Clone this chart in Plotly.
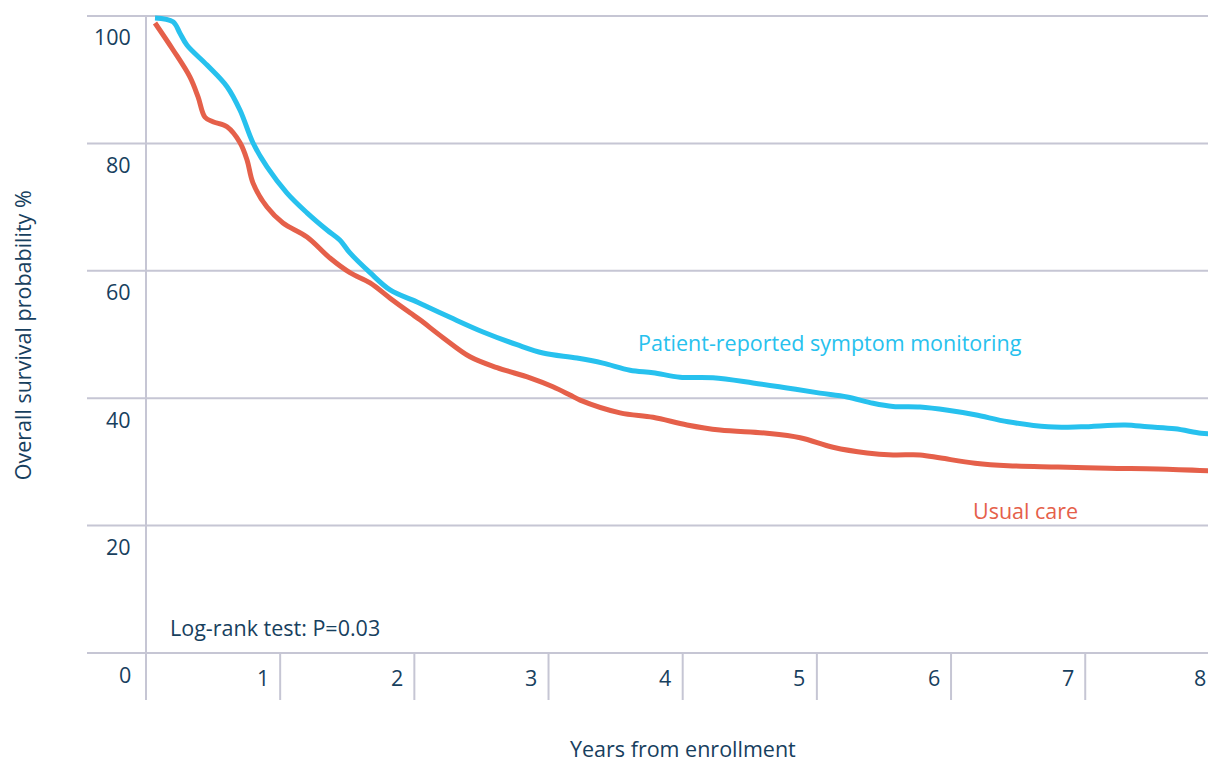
import plotly.graph_objects as go

# ---- data ----
prsm_years = [0.067, 0.201, 0.253, 0.306, 0.455, 0.604, 0.701, 0.797, 0.902, 1.051, 1.200, 1.349,
              1.446, 1.520, 1.670, 1.819, 2.020, 2.266, 2.512, 2.765, 2.959, 3.212, 3.406, 3.607,
              3.779, 3.980, 4.226, 4.524, 4.778, 5.023, 5.225, 5.419, 5.568, 5.769, 5.977, 6.179,
              6.425, 6.723, 6.969, 7.297, 7.468, 7.669, 7.863, 7.95]
prsm_surv = [99.7, 99.1, 97.3, 95.4, 92.3, 88.9, 85.2, 80.1, 76.3, 72.2, 69.1, 66.4,
             64.8, 62.8, 59.7, 57.0, 55.1, 52.7, 50.4, 48.4, 47.1, 46.3, 45.5, 44.4,
             44.0, 43.3, 43.2, 42.4, 41.6, 40.8, 40.2, 39.2, 38.7, 38.6, 38.1, 37.4,
             36.3, 35.5, 35.5, 35.8, 35.5, 35.2, 34.5, 34.4]

usual_years = [0.067, 0.201, 0.328, 0.388, 0.440, 0.499, 0.604, 0.701, 0.753, 0.797, 0.902, 1.021,
               1.200, 1.371, 1.520, 1.670, 1.819, 1.968, 2.042, 2.214, 2.415, 2.616, 2.862, 3.033,
               3.160, 3.235, 3.533, 3.779, 4.032, 4.278, 4.628, 4.875, 5.120, 5.374, 5.568, 5.769,
               5.925, 6.179, 6.425, 6.797, 7.170, 7.543, 7.95]
usual_surv = [98.9, 94.7, 90.4, 87.3, 84.1, 83.4, 82.6, 80.1, 77.4, 73.8, 70.0, 67.5,
              65.3, 62.0, 59.7, 58.1, 55.7, 53.4, 52.3, 49.5, 46.5, 44.8, 43.2, 41.8,
              40.5, 39.7, 37.7, 37.0, 35.8, 35.0, 34.5, 33.8, 32.3, 31.4, 31.1, 31.1,
              30.6, 29.8, 29.4, 29.2, 29.0, 28.9, 28.6]

y_ticks = [0, 20, 40, 60, 80, 100]
x_ticks = [1, 2, 3, 4, 5, 6, 7, 8]
x_tick_lines = [1, 2, 3, 4, 5, 6, 7]

X_MIN, X_MAX = -0.4397, 7.915
Y_MIN, Y_MAX = -7.378, 102.51

BLUE = "#27c1ee"
RED = "#e5604a"
TEXT = "#17405e"
GRID = "#c6c6d4"
FONT = "Open Sans"
FS = 21.5

fig = go.Figure()
fig.add_trace(go.Scatter(x=prsm_years, y=prsm_surv, mode="lines",
                         line=dict(color=BLUE, width=5, shape="spline", smoothing=1.0),
                         showlegend=False, hoverinfo="skip"))
fig.add_trace(go.Scatter(x=usual_years, y=usual_surv, mode="lines",
                         line=dict(color=RED, width=5, shape="spline", smoothing=1.0),
                         showlegend=False, hoverinfo="skip"))

shapes = []
for v in y_ticks:
    shapes.append(dict(type="line", xref="paper", yref="y", x0=0, x1=1, y0=v, y1=v,
                       line=dict(color=GRID, width=2), layer="below"))
shapes.append(dict(type="line", xref="x", yref="y", x0=0, x1=0, y0=Y_MIN, y1=100,
                   line=dict(color=GRID, width=2), layer="below"))
for v in x_tick_lines:
    shapes.append(dict(type="line", xref="x", yref="y", x0=v, x1=v, y0=0, y1=Y_MIN,
                       line=dict(color=GRID, width=2), layer="below"))

annotations = []
for v in y_ticks:
    annotations.append(dict(x=-0.097, y=v, xref="x", yref="y", text=str(v), showarrow=False,
                            xanchor="right", yanchor="middle", yshift=-21,
                            font=dict(family=FONT, size=FS, color=TEXT)))
for v in x_ticks:
    annotations.append(dict(x=min(v - 0.07, X_MAX), y=-3.9, xref="x", yref="y", text=str(v),
                            showarrow=False, xanchor="right", yanchor="middle",
                            font=dict(family=FONT, size=FS, color=TEXT)))
annotations.append(dict(x=-0.058, y=0.521, xref="paper", yref="paper",
                        text="Overall survival probability %", textangle=-90, showarrow=False,
                        xanchor="center", yanchor="middle",
                        font=dict(family=FONT, size=FS, color=TEXT)))
annotations.append(dict(x=4.0, y=-0.0686, xref="x", yref="paper", text="Years from enrollment",
                        showarrow=False, xanchor="center", yanchor="middle",
                        font=dict(family=FONT, size=FS, color=TEXT)))
annotations.append(dict(x=0.164, y=4.08, xref="x", yref="y", text="Log-rank test: P=0.03",
                        showarrow=False, xanchor="left", yanchor="middle",
                        font=dict(family=FONT, size=FS, color=TEXT)))
annotations.append(dict(x=3.652, y=48.7, xref="x", yref="y",
                        text="Patient-reported symptom monitoring",
                        showarrow=False, xanchor="left", yanchor="middle",
                        font=dict(family=FONT, size=FS, color=BLUE)))
annotations.append(dict(x=6.149, y=22.4, xref="x", yref="y", text="Usual care",
                        showarrow=False, xanchor="left", yanchor="middle",
                        font=dict(family=FONT, size=FS, color=RED)))

fig.update_layout(
    width=1208, height=765,
    margin=dict(l=87, r=0, t=0, b=65),
    paper_bgcolor="white", plot_bgcolor="white",
    xaxis=dict(range=[X_MIN, X_MAX], showgrid=False, zeroline=False, showticklabels=False,
               ticks="", showline=False, fixedrange=True),
    yaxis=dict(range=[Y_MIN, Y_MAX], showgrid=False, zeroline=False, showticklabels=False,
               ticks="", showline=False, fixedrange=True),
    shapes=shapes, annotations=annotations,
    font=dict(family=FONT, color=TEXT),
)

fig.write_html(
    "out.html",
    config={"displayModeBar": False, "staticPlot": True},
    post_script="document.body.style.margin='0';document.body.style.padding='0';"
                "document.body.style.overflow='hidden';"
                "document.documentElement.style.overflow='hidden';",
)
